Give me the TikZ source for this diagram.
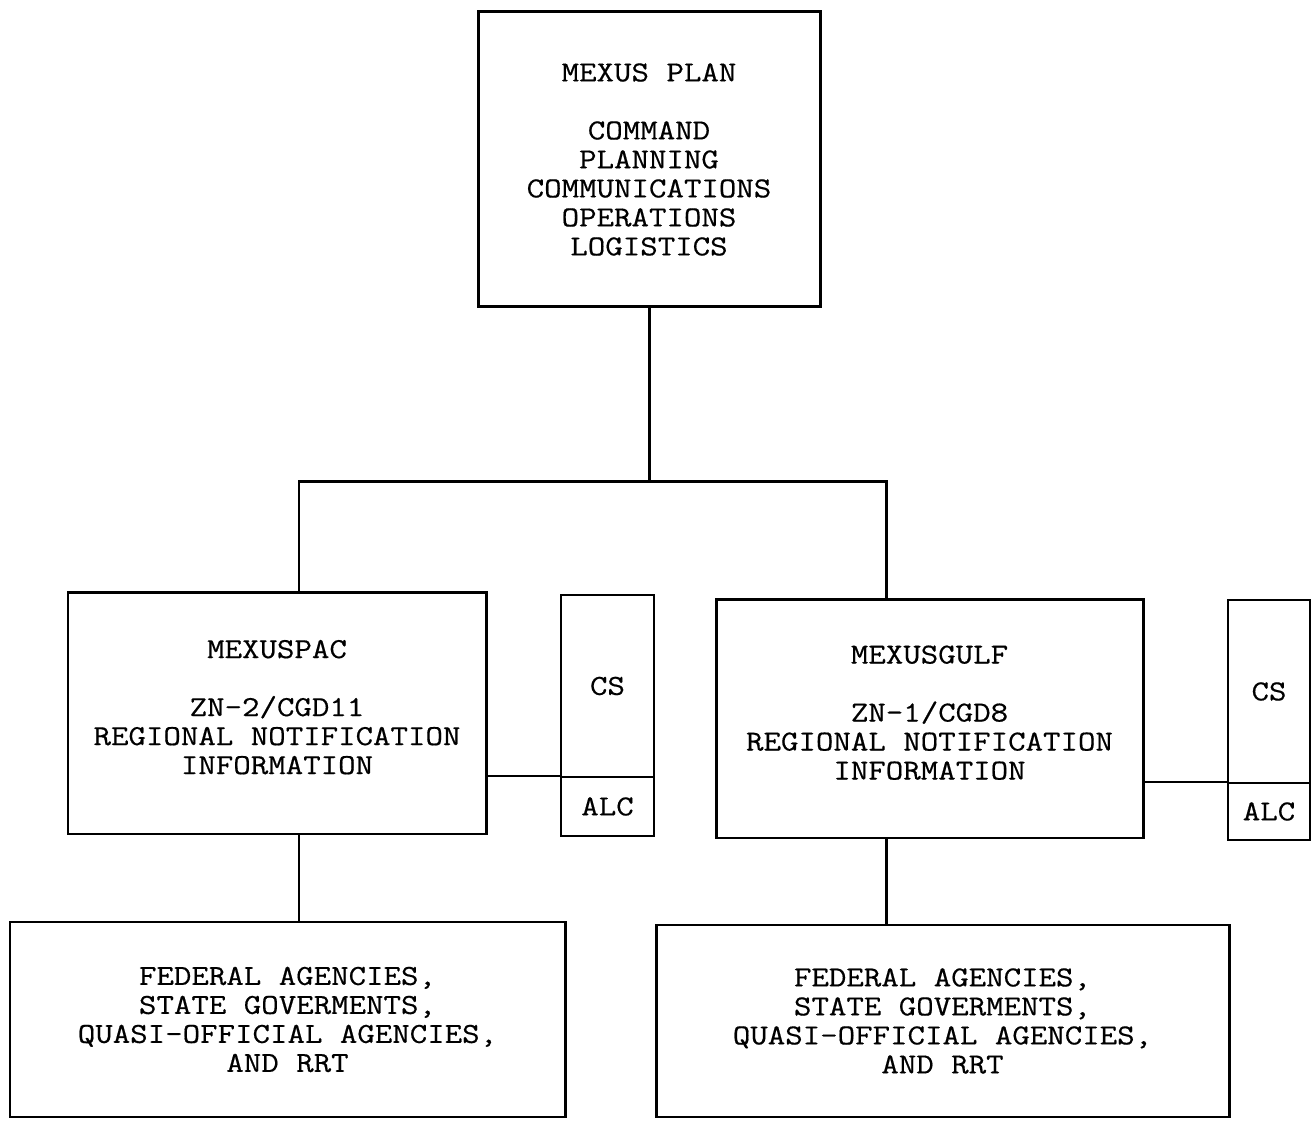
\documentclass[tikz,border=0pt]{standalone}
\usepackage{fontspec}
\newfontfamily\orgfont{Latin Modern Mono}[FakeStretch=1.17,FakeBold=0.5]
\tikzset{
  orgbox/.style={draw, line width=1.7pt, align=center, inner sep=0pt,
    font=\orgfont\fontsize{16.5}{16.5}\selectfont},
  sidebox/.style={draw, line width=1.1pt, align=center, inner sep=0pt,
    font=\orgfont\fontsize{16.5}{16.5}\selectfont},
  trunk/.style={line width=1.7pt},
  twig/.style={line width=1.1pt}
}

\begin{document}
\begin{tikzpicture}
\useasboundingbox (0,0) rectangle (26.24,22.4);
\node [orgbox, minimum width=6.84cm, minimum height=5.9cm] (plan) at (12.98,19.21)
  {MEXUS PLAN\\[16.5pt]COMMAND\\PLANNING\\COMMUNICATIONS\\OPERATIONS\\LOGISTICS};
\node [orgbox, minimum width=8.36cm, minimum height=4.82cm] (pac) at (5.54,8.13)
  {MEXUSPAC\\[16.5pt]ZN-2/CGD11\\REGIONAL NOTIFICATION\\INFORMATION\rule[-0.26cm]{0pt}{0.26cm}};
\node [orgbox, minimum width=8.54cm, minimum height=4.76cm] (gulf) at (18.59,8.02)
  {MEXUSGULF\\[16.5pt]ZN-1/CGD8\\REGIONAL NOTIFICATION\\INFORMATION\rule[-0.26cm]{0pt}{0.26cm}};
\node [sidebox, minimum width=1.86cm, minimum height=3.64cm] (paccs) at (12.15,8.68) {CS};
\node [sidebox, minimum width=1.86cm, minimum height=1.18cm] (pacalc) at (12.15,6.27) {ALC};
\node [sidebox, minimum width=1.64cm, minimum height=3.66cm] (gulfcs) at (25.38,8.57) {CS};
\node [sidebox, minimum width=1.64cm, minimum height=1.14cm] (gulfalc) at (25.38,6.17) {ALC};
\node [orgbox, minimum width=11.1cm, minimum height=3.9cm] (fedl) at (5.75,2.01)
  {FEDERAL AGENCIES,\\STATE GOVERMENTS,\\QUASI-OFFICIAL AGENCIES,\\AND RRT};
\node [orgbox, minimum width=11.46cm, minimum height=3.84cm] (fedr) at (18.85,1.98)
  {FEDERAL AGENCIES,\\STATE GOVERMENTS,\\QUASI-OFFICIAL AGENCIES,\\AND RRT};
\coordinate (lft) at (5.98,12.76);
\coordinate (rgt) at (17.72,12.76);
\draw [trunk] (plan.south) -- (plan.south |- lft);
\draw [trunk] (lft |- pac.north) -- (lft) -- (rgt) -- (rgt |- gulf.north);
\draw [trunk] (lft |- pac.south) -- (lft |- fedl.north);
\draw [trunk] (rgt |- gulf.south) -- (rgt |- fedr.north);
\draw [twig] (pac.east |- pacalc.north) -- (pacalc.north west);
\draw [twig] (gulf.east |- gulfalc.north) -- (gulfalc.north west);
\end{tikzpicture}
\end{document}
